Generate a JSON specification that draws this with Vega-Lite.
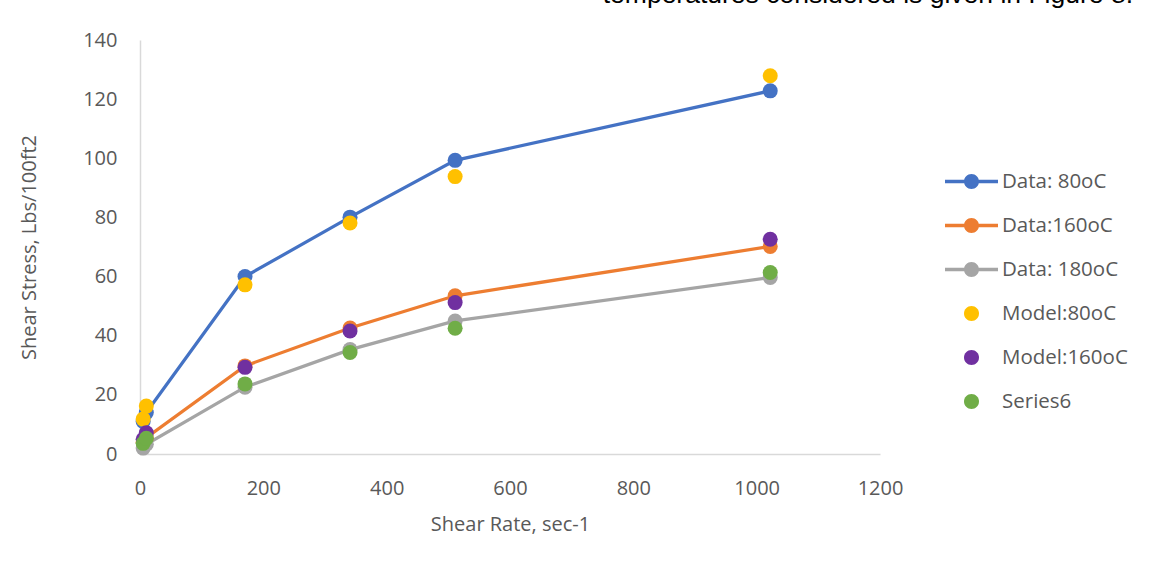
{
  "$schema": "https://vega.github.io/schema/vega-lite/v6.json",
  "autosize": {"type": "none"},
  "width": 740,
  "height": 414,
  "padding": {"left": 140, "top": 40, "right": 269, "bottom": 113},
  "background": "#ffffff",
  "title": {
    "text": "temperatures considered is given in Figure 8.",
    "orient": "top",
    "anchor": "end",
    "frame": "group",
    "baseline": "alphabetic",
    "offset": 1,
    "dx": 253,
    "font": "Liberation Sans",
    "fontSize": 26.5,
    "fontWeight": "normal",
    "color": "#000000"
  },
  "data": {
    "values": [
      {"series": "Data: 80oC", "kind": "Data", "rate": 5.11, "stress": 11},
      {"series": "Data: 80oC", "kind": "Data", "rate": 10.22, "stress": 14},
      {"series": "Data: 80oC", "kind": "Data", "rate": 170.3, "stress": 60},
      {"series": "Data: 80oC", "kind": "Data", "rate": 340.6, "stress": 80.1},
      {"series": "Data: 80oC", "kind": "Data", "rate": 511, "stress": 99.3},
      {"series": "Data: 80oC", "kind": "Data", "rate": 1022, "stress": 122.8},
      {"series": "Data:160oC", "kind": "Data", "rate": 5.11, "stress": 4},
      {"series": "Data:160oC", "kind": "Data", "rate": 10.22, "stress": 5.5},
      {"series": "Data:160oC", "kind": "Data", "rate": 170.3, "stress": 29.8},
      {"series": "Data:160oC", "kind": "Data", "rate": 340.6, "stress": 42.6},
      {"series": "Data:160oC", "kind": "Data", "rate": 511, "stress": 53.5},
      {"series": "Data:160oC", "kind": "Data", "rate": 1022, "stress": 70.2},
      {"series": "Data: 180oC", "kind": "Data", "rate": 5.11, "stress": 2},
      {"series": "Data: 180oC", "kind": "Data", "rate": 10.22, "stress": 3.3},
      {"series": "Data: 180oC", "kind": "Data", "rate": 170.3, "stress": 22.6},
      {"series": "Data: 180oC", "kind": "Data", "rate": 340.6, "stress": 35.3},
      {"series": "Data: 180oC", "kind": "Data", "rate": 511, "stress": 45},
      {"series": "Data: 180oC", "kind": "Data", "rate": 1022, "stress": 59.7},
      {"series": "Model:80oC", "kind": "Model", "rate": 5.11, "stress": 11.8},
      {"series": "Model:80oC", "kind": "Model", "rate": 10.22, "stress": 16.2},
      {"series": "Model:80oC", "kind": "Model", "rate": 170.3, "stress": 57.2},
      {"series": "Model:80oC", "kind": "Model", "rate": 340.6, "stress": 78.1},
      {"series": "Model:80oC", "kind": "Model", "rate": 511, "stress": 93.8},
      {"series": "Model:80oC", "kind": "Model", "rate": 1022, "stress": 127.9},
      {"series": "Model:160oC", "kind": "Model", "rate": 5.11, "stress": 5},
      {"series": "Model:160oC", "kind": "Model", "rate": 10.22, "stress": 7.2},
      {"series": "Model:160oC", "kind": "Model", "rate": 170.3, "stress": 29.3},
      {"series": "Model:160oC", "kind": "Model", "rate": 340.6, "stress": 41.6},
      {"series": "Model:160oC", "kind": "Model", "rate": 511, "stress": 51.2},
      {"series": "Model:160oC", "kind": "Model", "rate": 1022, "stress": 72.6},
      {"series": "Series6", "kind": "Model", "rate": 5.11, "stress": 3.6},
      {"series": "Series6", "kind": "Model", "rate": 10.22, "stress": 5.3},
      {"series": "Series6", "kind": "Model", "rate": 170.3, "stress": 23.7},
      {"series": "Series6", "kind": "Model", "rate": 340.6, "stress": 34.3},
      {"series": "Series6", "kind": "Model", "rate": 511, "stress": 42.5},
      {"series": "Series6", "kind": "Model", "rate": 1022, "stress": 61.4}
    ]
  },
  "encoding": {
    "x": {
      "field": "rate",
      "type": "quantitative",
      "scale": {"domain": [0, 1200], "nice": false, "zero": false},
      "axis": {
        "title": "Shear Rate, sec-1",
        "values": [0, 200, 400, 600, 800, 1000, 1200],
        "format": "d",
        "labelFlush": false,
        "grid": false,
        "ticks": false,
        "tickSize": 0,
        "domainColor": "#d9d9d9",
        "domainWidth": 1.5,
        "labelPadding": 24,
        "titlePadding": 16
      }
    },
    "y": {
      "field": "stress",
      "type": "quantitative",
      "scale": {"domain": [0, 140], "nice": false},
      "axis": {
        "title": "Shear Stress, Lbs/100ft2",
        "values": [0, 20, 40, 60, 80, 100, 120, 140],
        "format": "d",
        "labelFlush": false,
        "grid": false,
        "ticks": false,
        "tickSize": 0,
        "domainColor": "#d9d9d9",
        "domainWidth": 1.5,
        "labelPadding": 23,
        "titlePadding": 43
      }
    },
    "color": {
      "field": "series",
      "type": "nominal",
      "scale": {
        "domain": ["Data: 80oC", "Data:160oC", "Data: 180oC", "Model:80oC", "Model:160oC", "Series6"],
        "range": ["#4472c4", "#ed7d31", "#a5a5a5", "#ffc000", "#7030a0", "#70ad47"]
      },
      "legend": {
        "title": null,
        "orient": "none",
        "legendX": 805,
        "legendY": 115,
        "symbolSize": 2809,
        "symbolStrokeWidth": 0,
        "labelOffset": 4,
        "rowPadding": 7,
        "encode": {
          "symbols": {
            "update": {
              "shape": {"signal": "indexof(datum.value, 'Data') === 0 ? 'M-1,-0.066H1V0.066H-1Z M-0.283,0A0.283,0.283,0,1,1,0.283,0A0.283,0.283,0,1,1,-0.283,0Z' : 'M-0.283,0A0.283,0.283,0,1,1,0.283,0A0.283,0.283,0,1,1,-0.283,0Z'"},
              "fill": {"scale": "color", "field": "value"},
              "opacity": {"value": 1},
              "strokeWidth": {"value": 0}
            }
          }
        }
      }
    }
  },
  "layer": [
    {
      "transform": [{"filter": "datum.kind === 'Data'"}],
      "mark": {
        "type": "line",
        "strokeWidth": 3.25,
        "point": {"filled": true, "size": 225, "opacity": 1}
      }
    },
    {
      "transform": [{"filter": "datum.kind === 'Model'"}],
      "mark": {"type": "point", "filled": true, "size": 225, "opacity": 1}
    }
  ],
  "config": {
    "font": "Open Sans",
    "view": {"stroke": null},
    "axis": {
      "labelFont": "Open Sans",
      "labelFontSize": 20,
      "labelColor": "#595959",
      "titleFont": "Open Sans",
      "titleFontSize": 20,
      "titleFontWeight": "normal",
      "titleColor": "#595959"
    },
    "legend": {
      "labelFont": "Open Sans",
      "labelFontSize": 20.5,
      "labelColor": "#595959",
      "padding": 0
    }
  }
}
